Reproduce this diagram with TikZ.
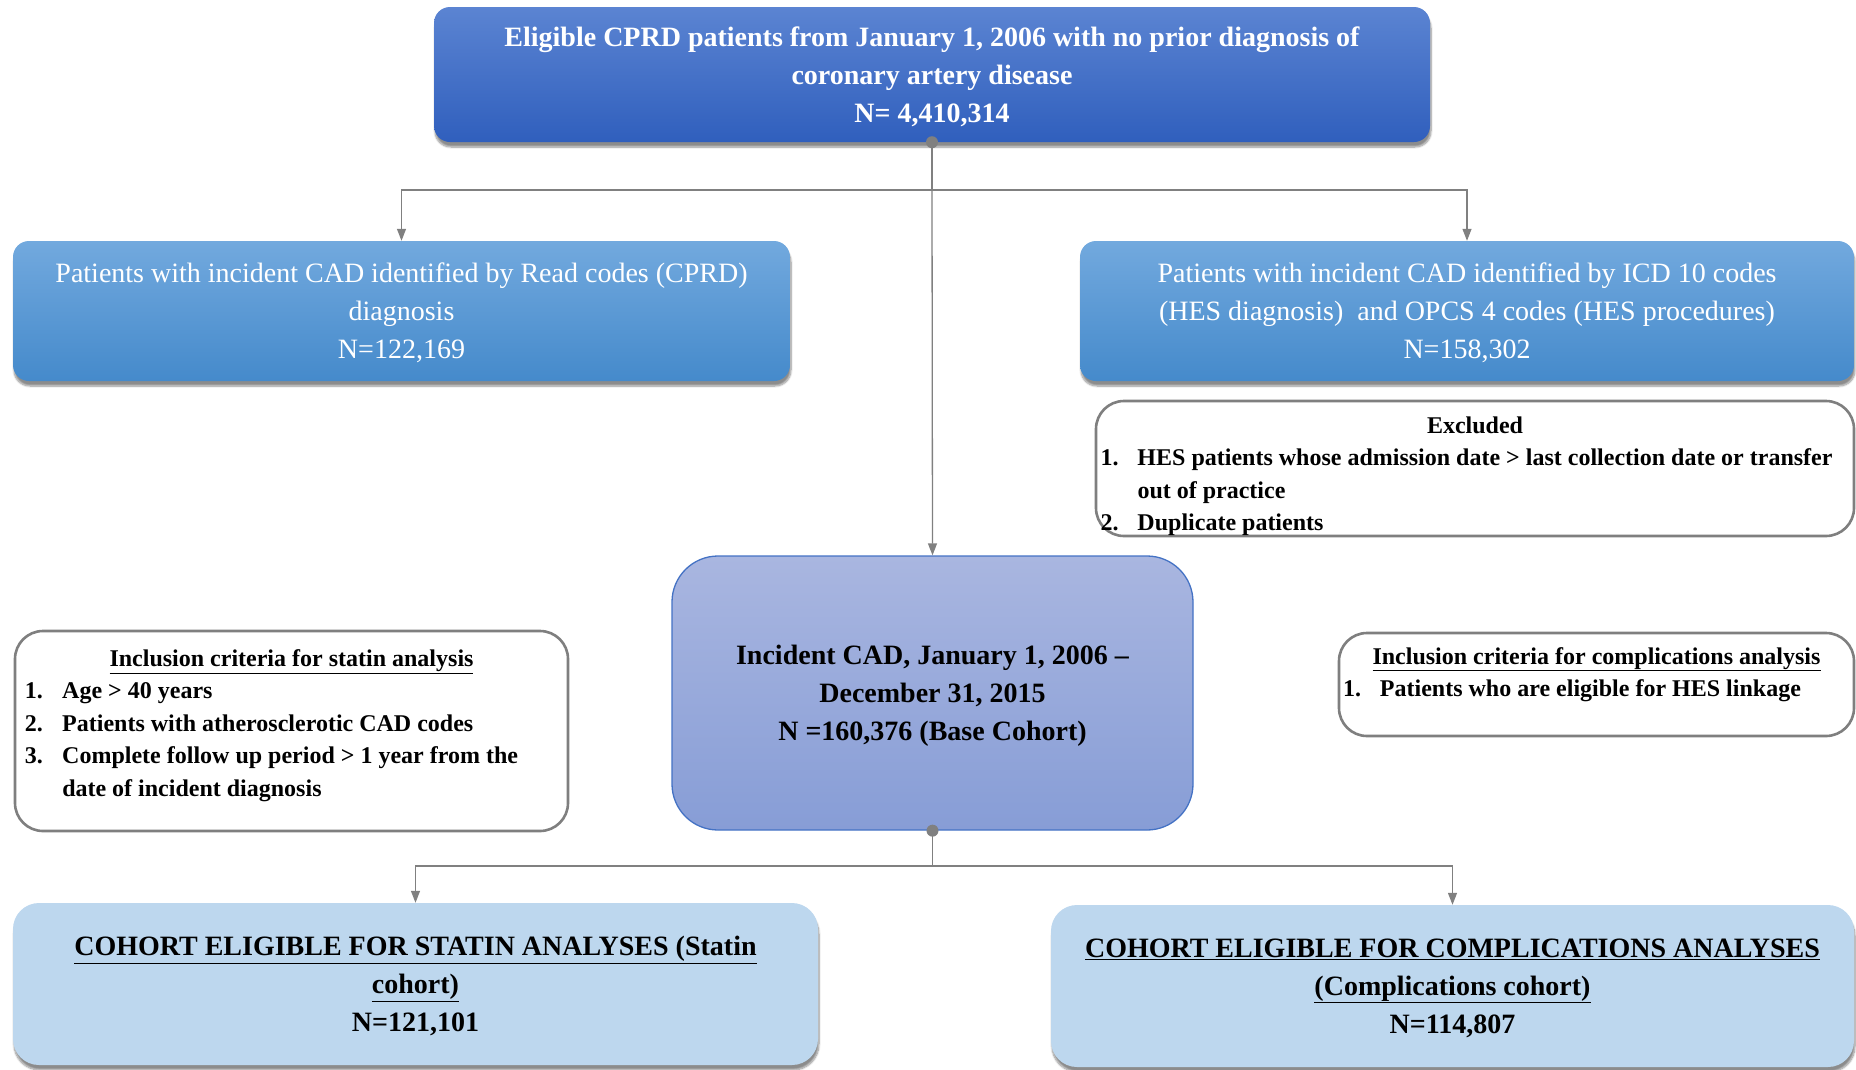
\documentclass[tikz,border=0pt]{standalone}
\usepackage{fontspec}
\setmainfont{Liberation Serif}
\usepackage{array}
\usetikzlibrary{positioning, arrows.meta, shadows.blur}

\definecolor{topA}{HTML}{5B84D2}
\definecolor{topB}{HTML}{305FBD}
\definecolor{midA}{HTML}{72A9DE}
\definecolor{midB}{HTML}{458ACB}
\definecolor{baseA}{HTML}{A9B6E0}
\definecolor{baseB}{HTML}{879DD6}
\definecolor{baseline}{HTML}{4472C4}
\definecolor{lowfill}{HTML}{BDD7EE}
\definecolor{critline}{HTML}{7F7F7F}
\definecolor{conncol}{HTML}{808080}

\tikzset{
  boxshadow/.style={blur shadow={shadow xshift=1pt, shadow yshift=-5pt, shadow blur steps=8, shadow opacity=45}},
  darkbox/.style={rounded corners=16pt, top color=topA, bottom color=topB, text=white, align=center, boxshadow,
    text depth=-3pt, font=\fontsize{28}{38}\selectfont\bfseries},
  midbox/.style={rounded corners=16pt, top color=midA, bottom color=midB, text=white, align=center, boxshadow,
    text depth=-3pt, font=\fontsize{28}{38}\selectfont},
  basebox/.style={rounded corners=46pt, top color=baseA, bottom color=baseB, draw=baseline, line width=1.3pt,
    align=center, text depth=-4pt, font=\fontsize{28}{38}\selectfont\bfseries},
  critbox/.style={rounded corners=28pt, draw=critline, fill=white, line width=2.6pt, inner sep=0pt,
    font=\fontsize{24}{32.5}\selectfont\bfseries},
  lowbox/.style={rounded corners=26pt, fill=lowfill, align=center, boxshadow,
    text depth=-4pt, font=\fontsize{28}{38}\selectfont\bfseries},
  conn/.style={draw=conncol, line width=1.3pt, -{Triangle[length=12pt,width=9pt]}},
  connplain/.style={draw=conncol, line width=1.3pt}
}

\begin{document}
\begin{tikzpicture}[x=1pt, y=-1pt]
\useasboundingbox (0,0) rectangle (1856,1069);

\node[darkbox, minimum width=996pt, minimum height=135pt] (top) at (932,74.5)
  {Eligible CPRD patients from January 1, 2006 with no prior diagnosis of\\coronary artery disease\\N= 4,410,314};

\node[midbox, minimum width=777pt, minimum height=140pt] (read) at (401.5,311)
  {Patients with incident CAD identified by Read codes (CPRD)\\diagnosis\\N=122,169};
\node[midbox, minimum width=774pt, minimum height=140pt] (icd) at (1467,311)
  {Patients with incident CAD identified by ICD 10 codes\\(HES diagnosis)\ \ and OPCS 4 codes (HES procedures)\\N=158,302};

\node[critbox, minimum width=758pt, minimum height=135pt] (excl) at (1475,468.5)
  {\raisebox{-13pt}[0pt][0pt]{\begin{tabular}{@{}l@{\hspace{19pt}}p{712pt}@{}}
   \multicolumn{2}{c}{Excluded}\\
   1. & HES patients whose admission date > last collection date or transfer\newline out of practice\\
   2. & Duplicate patients
   \end{tabular}}};

\node[basebox, minimum width=521pt, minimum height=274pt] (base) at (932.5,693)
  {Incident CAD, January 1, 2006 –\\December 31, 2015\\N =160,376 (Base Cohort)};

\node[critbox, minimum width=553pt, minimum height=200pt] (statcrit) at (291.5,731)
  {\raisebox{0pt}[0pt][0pt]{\begin{tabular}{@{}l@{\hspace{19.5pt}}p{496pt}@{}}
   \multicolumn{2}{c}{\underline{Inclusion criteria for statin analysis}}\\
   1. & Age > 40 years\\
   2. & Patients with atherosclerotic CAD codes\\
   3. & Complete follow up period > 1 year from the\newline date of incident diagnosis
   \end{tabular}}};
\node[critbox, minimum width=515pt, minimum height=103pt] (compcrit) at (1596.5,684.5)
  {\raisebox{4.5pt}[0pt][0pt]{\begin{tabular}{@{}l@{\hspace{19pt}}p{470pt}@{}}
   \multicolumn{2}{c}{\underline{Inclusion criteria for complications analysis}}\\
   1. & Patients who are eligible for HES linkage
   \end{tabular}}};

\node[lowbox, minimum width=805pt, minimum height=162pt] (statin) at (415.5,984)
  {\underline{COHORT ELIGIBLE FOR STATIN ANALYSES (Statin}\\\underline{cohort)}\\N=121,101};
\node[lowbox, minimum width=803pt, minimum height=162pt] (compl) at (1452.5,986)
  {\underline{COHORT ELIGIBLE FOR COMPLICATIONS ANALYSES}\\\underline{(Complications cohort)}\\N=114,807};

\coordinate (j1) at (932,190);
\coordinate (j2) at (932.5,866);
\draw[connplain] (top.south) -- (j1);
\draw[conn] (j1) -| (read.north);
\draw[conn] (j1) -| (icd.north);
\draw[conn] (j1) -- (base.north);
\draw[connplain] (base.south) -- (j2);
\draw[conn] (j2) -| (statin.north);
\draw[conn] (j2) -| (compl.north);
\fill[conncol] (top.south) circle (6pt);
\fill[conncol] (base.south) circle (6pt);
\end{tikzpicture}
\end{document}
